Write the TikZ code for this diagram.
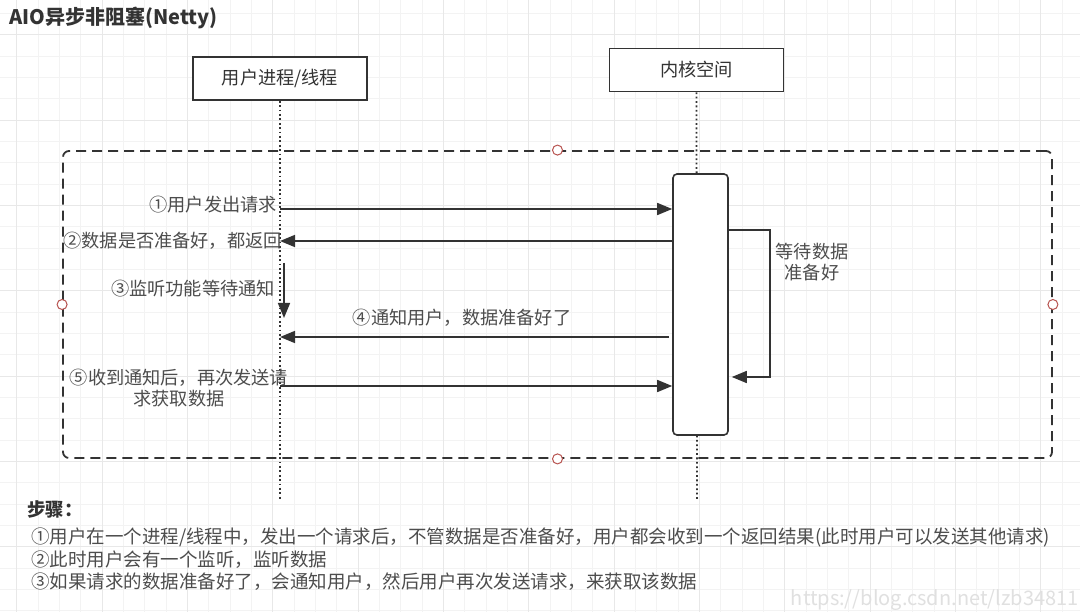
\documentclass[tikz,border=0pt]{standalone}
\usepackage{fontspec}
\setmainfont{Noto Sans CJK SC}
\usepackage{tikz}
\usetikzlibrary{arrows.meta, positioning}
\definecolor{linegray}{HTML}{333333}
\definecolor{textgray}{HTML}{4D4D4D}
\definecolor{gridminor}{HTML}{F3F3F3}
\definecolor{gridmajor}{HTML}{E8E8E8}
\definecolor{handlered}{HTML}{B85450}
\definecolor{markgray}{HTML}{E0E0E0}
\tikzstyle{lane} = [rectangle, minimum width=174pt, minimum height=43pt, text centered, draw=linegray, line width=1.6pt, fill=white, text=linegray, font=\fontsize{18.2}{20}\selectfont]
\tikzstyle{activation} = [rectangle, rounded corners=4pt, minimum width=55pt, minimum height=261pt, draw=linegray, line width=1.6pt, fill=white]
\tikzstyle{frame} = [rectangle, rounded corners=6pt, minimum width=989pt, minimum height=307pt, draw=linegray, line width=1.8pt, dash pattern=on 10pt off 6pt]
\tikzstyle{handle} = [circle, draw=handlered, fill=white, line width=1pt, minimum size=10pt, inner sep=0pt]
\tikzstyle{lifeline} = [line width=1.8pt, draw=linegray, dash pattern=on 1.8pt off 2.6pt]
\tikzstyle{msg} = [line width=1.6pt, draw=linegray, -{Triangle[length=15pt,width=12pt]}]
\tikzstyle{msgtext} = [text=textgray, inner sep=0pt, font=\fontsize{18.2}{21}\selectfont]

\begin{document}
\begin{tikzpicture}[x=1pt, y=-1pt]
    \useasboundingbox[fill=white] (0,0) rectangle (1080,612);
    % grid
    \foreach \i in {0,...,50} \draw[gridminor, line width=0.8pt] ({16.67+21.333*\i},0) -- ++(0,612);
    \foreach \j in {0,...,28} \draw[gridminor, line width=0.8pt] (0,{13.33+21.333*\j}) -- ++(1080,0);
    \foreach \i in {0,...,12} \draw[gridmajor, line width=0.9pt] ({16.67+85.333*\i},0) -- ++(0,612);
    \foreach \j in {0,...,6} \draw[gridmajor, line width=0.9pt] (0,{34.67+85.333*\j}) -- ++(1080,0);

    \node (title) [anchor=west, text=linegray, font=\fontsize{20}{22}\selectfont\bfseries, inner sep=0pt] at (9,18) {AIO异步非阻塞(Netty)};

    \node (user) [lane] at (280,78.5) {用户进程/线程};
    \node (kernel) [lane] at (696.5,70) {内核空间};
    \coordinate (userEnd) at (280,500);
    \coordinate (kernelEnd) at (697,500);
    \draw [lifeline] (user.south) -- (userEnd);
    \draw [lifeline] (kernel.south) -- (kernelEnd);

    \node (box) [frame] at (557.5,304.5) {};
    \node (act) [activation] at (700.5,304.5) {};
    \foreach \side in {north, south, east, west}
        \node [handle] at (box.\side) {};

    % messages
    \coordinate (m1) at (280,209);
    \coordinate (m2) at (280,241);
    \coordinate (w1) at (284,263);
    \coordinate (w2) at (284,318);
    \coordinate (m4) at (280,337);
    \coordinate (m5) at (280,386);
    \draw [msg] (m1) -- (m1 -| act.west);
    \draw [msg] (m2 -| act.west) -- (m2);
    \draw [msg] (w1) -- (w2);
    \draw [msg] ([xshift=-3pt]m4 -| act.west) -- (m4);
    \draw [msg] (m5) -- (m5 -| act.west);
    \node [msgtext, anchor=east] at (277,205) {①用户发出请求};
    \node [msgtext, anchor=east] at (282,241) {②数据是否准备好，都返回};
    \node [msgtext, anchor=east] at (275,289) {③监听功能等待通知};
    \node [msgtext] at (462,318) {④通知用户，数据准备好了};
    \node [msgtext, align=center] at (179,388.5) {⑤收到通知后，再次发送请\\求获取数据};

    % self call
    \coordinate (loopTop) at (770,230);
    \coordinate (loopBot) at (770,377);
    \draw [msg] (act.east |- loopTop) -- (loopTop) -- (loopBot) -- ([xshift=3pt]act.east |- loopBot);
    \node [msgtext, align=center] at (812,262) {等待数据\\准备好};

    \node (steps) [anchor=west, text=linegray, font=\fontsize{18.5}{20}\selectfont\bfseries, inner sep=0pt] at (27,509) {步骤：};
    \node (notes) [msgtext, anchor=north west, align=left, font=\fontsize{18.5}{22.5}\selectfont] at (31,528) {①用户在一个进程/线程中，发出一个请求后，不管数据是否准备好，用户都会收到一个返回结果(此时用户可以发送其他请求)\\②此时用户会有一个监听，监听数据\\③如果请求的数据准备好了，会通知用户，然后用户再次发送请求，来获取该数据};

    \node [anchor=east, text=markgray, inner sep=0pt, font=\fontsize{20}{24}\selectfont] at (1079,600) {https://blog.csdn.net/lzb34811};
\end{tikzpicture}
\end{document}
